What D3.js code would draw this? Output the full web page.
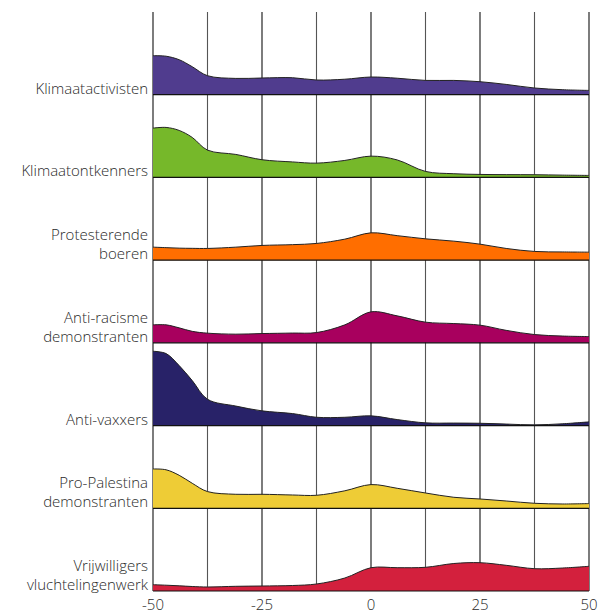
<!DOCTYPE html>
<html><head><meta charset="utf-8">
<script src="https://cdn.jsdelivr.net/npm/d3@7"></script>
<style>body{margin:0;background:#fff}svg{display:block}text{font-family:"Open Sans",sans-serif;font-weight:300;fill:#2a2a2a}</style>
</head><body><svg id="c" width="598" height="615"></svg>
<script>
const categories = ["Klimaatactivisten","Klimaatontkenners","Protesterende boeren","Anti-racisme demonstranten","Anti-vaxxers","Pro-Palestina demonstranten","Vrijwilligers vluchtelingenwerk"];
const labelLines = [["Klimaatactivisten"],["Klimaatontkenners"],["Protesterende","boeren"],["Anti-racisme","demonstranten"],["Anti-vaxxers"],["Pro-Palestina","demonstranten"],["Vrijwilligers","vluchtelingenwerk"]];
const colors = ["#503C8E","#76B82A","#FF6E00","#A8005E","#282268","#EECC36","#D3203D"];
const xs = [-50,-47,-44,-41,-37.5,-31,-25,-18,-12.5,-6,0,6,12.5,19,25,31,37.5,44,50];
const klimaatactivisten = [3.9,3.85,3.5,2.8,1.9,1.63,1.67,1.7,1.47,1.55,1.77,1.65,1.43,1.43,1.3,1.03,0.67,0.5,0.43];
const klimaatontkenners = [4.93,5.0,4.7,4.0,2.73,2.3,1.77,1.55,1.43,1.7,2.13,1.75,0.6,0.37,0.3,0.28,0.27,0.23,0.2];
const boeren = [1.3,1.25,1.2,1.18,1.17,1.3,1.47,1.55,1.67,2.1,2.73,2.45,2.13,1.9,1.6,1.17,0.87,0.82,0.8];
const antiRacisme = [1.8,1.8,1.5,1.15,0.97,0.87,0.93,0.98,1.03,1.8,3.1,2.7,2.07,1.93,1.77,1.25,0.83,0.68,0.63];
const antiVaxxers = [7.43,7.2,6.0,4.5,2.63,1.95,1.47,1.2,0.83,0.83,0.97,0.6,0.27,0.25,0.23,0.15,0.07,0.18,0.37];
const proPalestina = [3.93,3.85,3.3,2.5,1.67,1.4,1.4,1.33,1.3,1.75,2.37,2.0,1.53,1.1,0.93,0.73,0.5,0.43,0.47];
const vrijwilligers = [0.63,0.58,0.52,0.45,0.4,0.47,0.5,0.55,0.7,1.3,2.33,2.33,2.37,2.75,2.83,2.57,2.23,2.3,2.47];
const series = [klimaatactivisten,klimaatontkenners,boeren,antiRacisme,antiVaxxers,proPalestina,vrijwilligers];
const gridTicks = [-50,-37.5,-25,-12.5,0,12.5,25,37.5,50];
const tickLabels = [-50,-25,0,25,50];

const svg = d3.select("#c");
const x = d3.scaleLinear().domain([-50,50]).range([153,589]);
const band = d3.scaleBand().domain(categories).range([12,591]).paddingInner(0);
const h = d3.scaleLinear().domain([0,8.27]).range([0,82.7]);

svg.append("g").selectAll("line").data(gridTicks).join("line")
  .attr("x1",d=>x(d)).attr("x2",d=>x(d)).attr("y1",12).attr("y2",591)
  .attr("stroke",d=>Math.abs(d)%25===0?"#111":"#555").attr("stroke-width",1.1);

const curve = d3.curveCatmullRom.alpha(0.5);
const area = d3.area().x((d,i)=>x(xs[i])).curve(curve);
const line = d3.line().x((d,i)=>x(xs[i])).curve(curve);

categories.forEach((c,k)=>{
  const base = band(c)+band.bandwidth();
  const g = svg.append("g");
  g.append("path").datum(series[k])
    .attr("d", area.y0(base).y1(d=>base-h(d)))
    .attr("fill", colors[k]);
  g.append("path").datum(series[k])
    .attr("d", line.y(d=>base-h(d)))
    .attr("fill","none").attr("stroke","#222").attr("stroke-width",1);
  g.append("line").attr("x1",x(-50)).attr("x2",x(50)).attr("y1",base).attr("y2",base)
    .attr("stroke","#111").attr("stroke-width",1.2);
  const lines = labelLines[k];
  const t = g.append("text").attr("text-anchor","end").attr("font-size",15);
  lines.forEach((s,j)=>{
    t.append("tspan").attr("x",148).attr("y", base-1-(lines.length-1-j)*19).text(s);
  });
});

svg.append("g").selectAll("text").data(tickLabels).join("text")
  .attr("x",d=>x(d)).attr("y",610).attr("text-anchor","middle").attr("font-size",15)
  .text(d=>d);
</script></body></html>
